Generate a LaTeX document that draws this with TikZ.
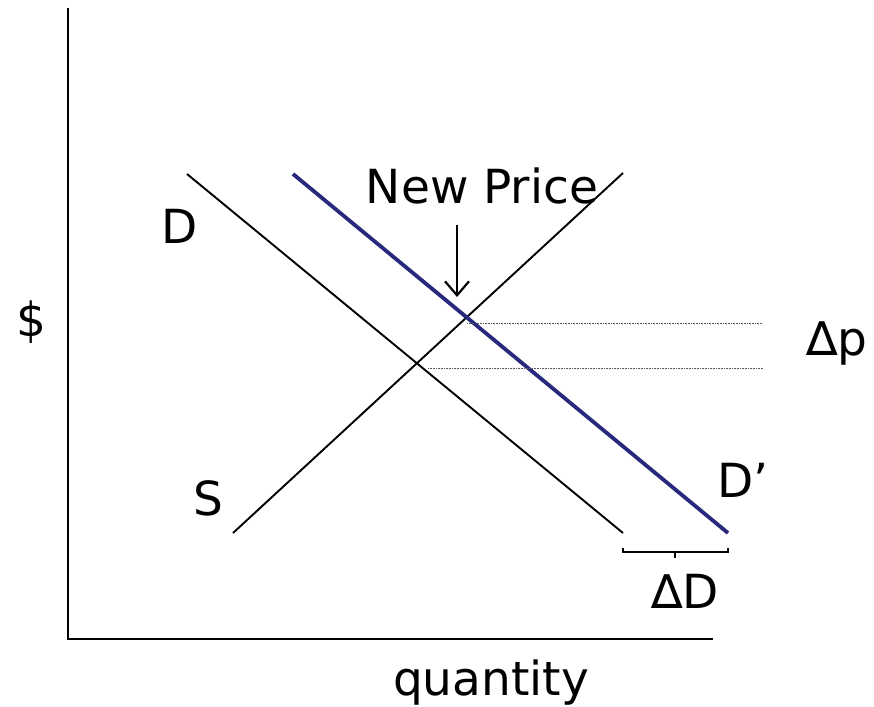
\documentclass[tikz,border=0pt]{standalone}
\usepackage{fontspec}
\setmainfont{DejaVu Sans}
\usetikzlibrary{arrows.meta}
\definecolor{navyline}{RGB}{40,40,125}
\tikzset{
  axisline/.style={line width=2.8pt, line cap=butt},
  curveline/.style={line width=1.9pt},
  shiftline/.style={line width=3.8pt, draw=navyline},
  guideline/.style={line width=1pt, draw=black!65, dash pattern=on 1pt off 0.6pt},
  lbl/.style={inner sep=0pt, font=\fontsize{47}{56}\selectfont},
  bracketline/.style={line width=2pt},
}
\begin{document}
\begin{tikzpicture}[x=1pt,y=-1pt]
\useasboundingbox (0,0) rectangle (874,706);
% axes
\coordinate (ytop) at (68,8);
\coordinate (orig) at (68,639);
\coordinate (xend) at (713,639);
\draw[axisline] (ytop) -- (orig) -- (xend);
% curves
\coordinate (Dtop) at (187,174);
\coordinate (Dbot) at (623,533);
\coordinate (Stop) at (623,173);
\coordinate (Sbot) at (233,533);
\coordinate (Ptop) at (293,174);
\coordinate (Pbot) at (728,533);
\draw[curveline] (Dtop) -- (Dbot);
\draw[curveline] (Sbot) -- (Stop);
\draw[shiftline] (Ptop) -- (Pbot);
% guide lines
\coordinate (g1a) at (467,323);
\coordinate (g1b) at (763,323);
\coordinate (g2a) at (428,368);
\coordinate (g2b) at (763,368);
\draw[guideline] (g1a) -- (g1b);
\draw[guideline] (g2a) -- (g2b);
% bracket
\coordinate (bl) at (623,548);
\coordinate (bm) at (675,552);
\coordinate (bmt) at (675,558);
\draw[bracketline] (bl) -- ++(0,4) -- ++(105,0) -- ++(0,-4);
\draw[bracketline] (bm) -- (bmt);
% labels
\node[lbl, anchor=base] (np) at (482,203) {New Price};
\node[lbl, anchor=base] (dl) at (180,243) {D};
\node[lbl, anchor=base] (dollar) at (31,336) {\$};
\node[lbl, anchor=base west] (dp) at (806,355) {∆p};
\node[lbl, anchor=base west] (dpr) at (717,497) {D’};
\node[lbl, anchor=base] (sl) at (208,515) {S};
\node[lbl, anchor=base west] (dd) at (651,608) {∆D};
\node[lbl, anchor=base] (qty) at (491,695) {quantity};
% arrow
\coordinate (atop) at (457,225);
\coordinate (atip) at (457,297);
\draw[line width=2.2pt, -{Straight Barb[length=14pt,width=24pt,line width=2.2pt]}] (atop) -- (atip);
\end{tikzpicture}
\end{document}
